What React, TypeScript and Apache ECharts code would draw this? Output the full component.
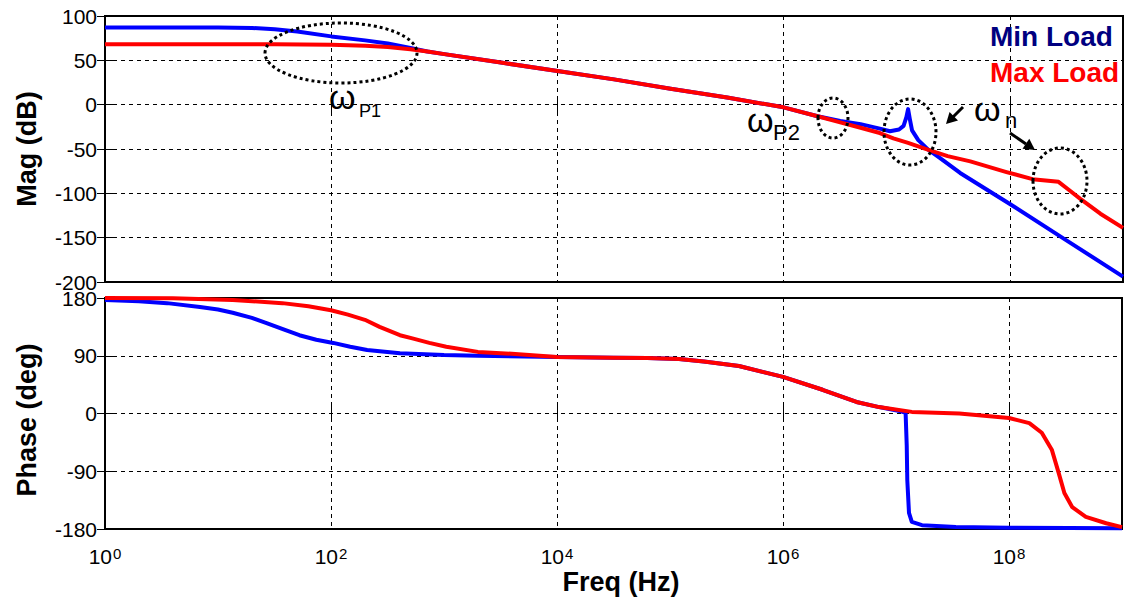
import React, { useEffect, useRef } from 'react';
import * as echarts from 'echarts';

const FONT = '"Liberation Sans", Arial, Helvetica, sans-serif';

// x values are log10(frequency in Hz)
const FREQ_MIN_EXP = 0;
const FREQ_MAX_EXP = 9;
const FREQ_TICK_STEP = 2;

const MAG_AXIS = { min: -200, max: 100, interval: 50 };
const PHASE_AXIS = { min: -180, max: 180, interval: 90 };

// Min Load magnitude (dB)
const MIN_MAG_LOGF = [0, 1.0, 1.3, 1.5, 1.7, 2.0, 2.3, 2.5, 2.7, 2.85, 3.0, 3.5, 4.0, 4.5, 5.0, 5.5, 6.0, 6.3, 6.5, 6.68, 6.85, 6.94, 7.02, 7.06, 7.085, 7.1, 7.115, 7.135, 7.19, 7.28, 7.38, 7.56, 8.0, 8.5, 9.0];
const MIN_MAG_DB = [87, 87, 86.5, 85, 82.5, 77, 72.5, 69, 64, 60, 57, 47.5, 38, 28.5, 18, 8, -3, -13, -18.5, -22, -27, -30, -28, -24, -14, -5, -16, -29, -40, -51, -60, -77, -112, -153, -194];

// Max Load magnitude (dB)
const MAX_MAG_LOGF = [0, 1.0, 1.5, 2.0, 2.3, 2.5, 2.7, 2.85, 3.0, 3.5, 4.0, 4.5, 5.0, 5.5, 6.0, 6.3, 6.5, 6.68, 6.85, 6.97, 7.1, 7.28, 7.45, 7.65, 7.97, 8.2, 8.43, 8.52, 8.62, 8.8, 9.0];
const MAX_MAG_DB = [68, 68, 68, 67.5, 66.5, 65, 62.5, 60, 57, 47.5, 38, 28.5, 18, 8, -3, -13, -20, -26, -32, -38, -43, -51, -58, -64, -76, -84, -87, -96, -106, -123, -139];

// Min Load phase (deg)
const MIN_PH_LOGF = [0, 0.3, 0.55, 0.84, 1.0, 1.13, 1.3, 1.43, 1.58, 1.72, 1.87, 2.02, 2.17, 2.32, 2.61, 3.0, 3.3, 4.0, 4.5, 4.8, 5.08, 5.3, 5.61, 6.0, 6.35, 6.65, 6.85, 7.03, 7.085, 7.095, 7.1, 7.115, 7.14, 7.23, 7.53, 8.0, 9.0];
const MIN_PH_DEG = [177, 175, 172, 166, 162, 157, 149, 141, 131, 122, 115, 110, 104, 99, 94, 91, 90, 88, 87, 86.5, 85, 81, 74, 57, 37, 18, 10, 4, 1, -50, -104, -155, -169, -174, -177, -178, -179];

// Max Load phase (deg)
const MAX_PH_LOGF = [0, 0.6, 1.13, 1.57, 1.8, 2.0, 2.15, 2.3, 2.43, 2.61, 2.72, 2.87, 3.02, 3.3, 3.6, 4.0, 4.5, 4.8, 5.08, 5.3, 5.61, 6.0, 6.35, 6.65, 6.85, 7.14, 7.56, 8.0, 8.18, 8.29, 8.38, 8.44, 8.49, 8.56, 8.68, 8.86, 9.0];
const MAX_PH_DEG = [180, 179.5, 177, 172, 167, 161, 154, 146, 135, 122, 117, 110, 104, 96, 93, 88, 87, 86.5, 85, 81, 74, 57, 37, 18, 10, 2.5, 0, -7, -15, -30, -57, -93, -124, -146, -161, -171, -177];

const SERIES_NAMES = ['Min Load', 'Max Load'];
const SERIES_COLORS = ['#0000ff', '#ff0000'];
const LEGEND_COLORS = ['#000080', '#ff0000'];

const zip = (xs: number[], ys: number[]) => xs.map((x, i) => [x, ys[i]]);

function arrowHead(tipX: number, tipY: number, fromX: number, fromY: number, len: number, half: number) {
  const dx = tipX - fromX;
  const dy = tipY - fromY;
  const d = Math.hypot(dx, dy);
  const ux = dx / d;
  const uy = dy / d;
  const bx = tipX - ux * len;
  const by = tipY - uy * len;
  return [
    [tipX, tipY],
    [bx - uy * half, by + ux * half],
    [bx + uy * half, by - ux * half],
  ];
}

export default function App() {
  const ref = useRef<HTMLDivElement>(null);

  useEffect(() => {
    if (!ref.current) return;
    const chart = echarts.init(ref.current, undefined, { renderer: 'svg' });

    const gridStyle = { show: true, borderColor: '#000', borderWidth: 2, backgroundColor: 'transparent' };
    const splitLine = { show: true, lineStyle: { color: '#000', width: 1, type: [4, 4] as any } };
    const tick = { show: true, inside: true, length: 8, lineStyle: { color: '#000', width: 1 } };
    const yLabel = { show: true, color: '#000', fontSize: 21, fontFamily: FONT, margin: 8 };

    const xBase = (gridIndex: number) => ({
      type: 'value',
      gridIndex,
      min: FREQ_MIN_EXP,
      max: FREQ_MAX_EXP,
      interval: FREQ_TICK_STEP,
      axisLine: { show: false },
      axisTick: tick,
    });

    const lineSeries = (i: number, axis: number, data: number[][]) => ({
      name: SERIES_NAMES[i],
      type: 'line',
      xAxisIndex: axis,
      yAxisIndex: axis,
      data,
      showSymbol: false,
      lineStyle: { color: SERIES_COLORS[i], width: 4, join: 'round' },
      itemStyle: { color: SERIES_COLORS[i] },
      z: 3 + i,
    });

    const option: any = {
      animation: false,
      backgroundColor: '#fff',
      grid: [
        { left: 105, right: 2, top: 16, height: 266, ...gridStyle },
        { left: 105, right: 2, top: 298, height: 231, ...gridStyle },
      ],
      legend: {
        orient: 'vertical',
        left: 985,
        top: 22,
        padding: 0,
        itemGap: 8,
        itemWidth: 0,
        itemHeight: 0,
        icon: 'none',
        selectedMode: false,
        textStyle: { fontSize: 28, fontWeight: 'bold', fontFamily: FONT },
        data: SERIES_NAMES.map((n, i) => ({ name: n, textStyle: { color: LEGEND_COLORS[i] } })),
      },
      xAxis: [
        { ...xBase(0), position: 'bottom', axisLabel: { show: false }, splitLine },
        {
          ...xBase(1),
          position: 'bottom',
          splitLine,
          axisLabel: {
            show: true,
            margin: 17,
            formatter: (v: number) => (v % FREQ_TICK_STEP === 0 && v < FREQ_MAX_EXP ? `{b|10}{e|${v}}` : ''),
            rich: {
              b: { fontSize: 21, fontFamily: FONT, color: '#000', verticalAlign: 'bottom', lineHeight: 21 },
              e: { fontSize: 15, fontFamily: FONT, color: '#000', verticalAlign: 'top', lineHeight: 15, padding: [0, 0, 13, 1] },
            },
          },
        },
        { ...xBase(0), position: 'top', axisLabel: { show: false }, splitLine: { show: false } },
        { ...xBase(1), position: 'top', axisLabel: { show: false }, splitLine: { show: false } },
      ],
      yAxis: [
        { type: 'value', gridIndex: 0, position: 'left', ...MAG_AXIS, axisLine: { show: false }, axisTick: tick, axisLabel: yLabel, splitLine },
        { type: 'value', gridIndex: 1, position: 'left', ...PHASE_AXIS, axisLine: { show: false }, axisTick: tick, axisLabel: yLabel, splitLine },
        { type: 'value', gridIndex: 0, position: 'right', ...MAG_AXIS, axisLine: { show: false }, axisTick: tick, axisLabel: { show: false }, splitLine: { show: false } },
        { type: 'value', gridIndex: 1, position: 'right', ...PHASE_AXIS, axisLine: { show: false }, axisTick: tick, axisLabel: { show: false }, splitLine: { show: false } },
      ],
      series: [
        lineSeries(0, 0, zip(MIN_MAG_LOGF, MIN_MAG_DB)),
        lineSeries(1, 0, zip(MAX_MAG_LOGF, MAX_MAG_DB)),
        lineSeries(0, 1, zip(MIN_PH_LOGF, MIN_PH_DEG)),
        lineSeries(1, 1, zip(MAX_PH_LOGF, MAX_PH_DEG)),
      ],
      graphic: [
        { type: 'text', x: 27, y: 149, rotation: Math.PI / 2, style: { text: 'Mag (dB)', font: `bold 27px ${FONT}`, fill: '#000', align: 'center', verticalAlign: 'middle' } },
        { type: 'text', x: 27, y: 420, rotation: Math.PI / 2, style: { text: 'Phase (deg)', font: `bold 27px ${FONT}`, fill: '#000', align: 'center', verticalAlign: 'middle' } },
        { type: 'text', x: 621, y: 582, style: { text: 'Freq (Hz)', font: `bold 27px ${FONT}`, fill: '#000', align: 'center', verticalAlign: 'middle' } },
        // annotations
        { type: 'ellipse', shape: { cx: 341, cy: 53, rx: 76, ry: 30 }, style: { fill: 'none', stroke: '#000', lineWidth: 3, lineDash: [3, 3] }, z: 10 },
        { type: 'ellipse', shape: { cx: 833, cy: 118, rx: 15, ry: 20 }, style: { fill: 'none', stroke: '#000', lineWidth: 3, lineDash: [3, 3] }, z: 10 },
        { type: 'ellipse', shape: { cx: 910, cy: 132, rx: 26, ry: 33 }, style: { fill: 'none', stroke: '#000', lineWidth: 3, lineDash: [3, 3] }, z: 10 },
        { type: 'ellipse', shape: { cx: 1060, cy: 181, rx: 27, ry: 33 }, style: { fill: 'none', stroke: '#000', lineWidth: 3, lineDash: [3, 3] }, z: 10 },
        { type: 'line', shape: { x1: 963, y1: 107, x2: 952, y2: 118 }, style: { stroke: '#000', lineWidth: 3 }, z: 10 },
        { type: 'polygon', shape: { points: arrowHead(946, 124, 963, 107, 11, 6) }, style: { fill: '#000' }, z: 10 },
        { type: 'line', shape: { x1: 1010, y1: 133, x2: 1026, y2: 144 }, style: { stroke: '#000', lineWidth: 3 }, z: 10 },
        { type: 'polygon', shape: { points: arrowHead(1035, 150, 1010, 133, 11, 6) }, style: { fill: '#000' }, z: 10 },
        { type: 'text', x: 329, y: 97, style: { text: 'ω', font: `34px ${FONT}`, fill: '#000', verticalAlign: 'middle' }, z: 10 },
        { type: 'text', x: 359, y: 111, style: { text: 'P1', font: `18px ${FONT}`, fill: '#000', verticalAlign: 'middle' }, z: 10 },
        { type: 'text', x: 747, y: 120, style: { text: 'ω', font: `34px ${FONT}`, fill: '#000', verticalAlign: 'middle' }, z: 10 },
        { type: 'text', x: 773, y: 132, style: { text: 'P2', font: `22px ${FONT}`, fill: '#000', verticalAlign: 'middle' }, z: 10 },
        { type: 'text', x: 974, y: 109, style: { text: 'ω', font: `34px ${FONT}`, fill: '#000', verticalAlign: 'middle' }, z: 10 },
        { type: 'text', x: 1005, y: 120, style: { text: 'n', font: `22px ${FONT}`, fill: '#000', verticalAlign: 'middle' }, z: 10 },
      ],
    };

    chart.setOption(option);
    return () => chart.dispose();
  }, []);

  return <div ref={ref} style={{ position: 'fixed', left: 0, top: 0, width: 1125, height: 601, background: '#fff' }} />;
}
